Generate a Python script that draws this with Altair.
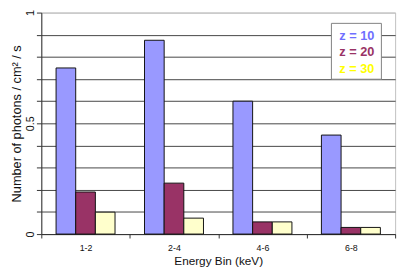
import altair as alt
import pandas as pd

bins = ["1-2", "2-4", "4-6", "6-8"]
series = ["z = 10", "z = 20", "z = 30"]
z10 = [0.75, 0.875, 0.60, 0.447]
z20 = [0.19, 0.23, 0.055, 0.03]
z30 = [0.099, 0.072, 0.055, 0.03]
bar_colors = ["#9999FF", "#993366", "#FFFFCC"]
legend_colors = ["#6F6FFF", "#993366", "#FFFF00"]
y_ticks = [0, 0.1, 0.2, 0.3, 0.4, 0.5, 0.6, 0.7, 0.8, 0.9, 1.0]

rows = []
for s, vals in zip(series, [z10, z20, z30]):
    for b, v in zip(bins, vals):
        rows.append({"bin": b, "series": s, "value": v})
df = pd.DataFrame(rows)

font = "Liberation Sans"

bars = alt.Chart(df).mark_bar(stroke="#111", strokeWidth=1, strokeOpacity=1).encode(
    x=alt.X("bin:N", sort=bins,
            scale=alt.Scale(paddingInner=0, paddingOuter=0),
            axis=alt.Axis(title="Energy Bin (keV)", labelAngle=0, tickBand="extent",
                          ticks=True, tickSize=4, domainColor="#333", tickColor="#333",
                          labelFontSize=9, titleFontSize=12, labelFont=font, titleFont=font,
                          titleFontWeight="normal", labelColor="#111", titleColor="#111",
                          labelPadding=6, titlePadding=3, grid=False)),
    xOffset=alt.XOffset("series:N", sort=series,
                        scale=alt.Scale(paddingInner=0, paddingOuter=0.75)),
    y=alt.Y("value:Q", scale=alt.Scale(domain=[0, 1], nice=False),
            axis=alt.Axis(title="Number of photons / cm² / s", values=y_ticks,
                          labelExpr="datum.value == 0 ? '0' : datum.value == 0.5 ? '0.5' : datum.value == 1 ? '1' : ''",
                          labelAngle=270, labelAlign="center", labelBaseline="bottom",
                          tickSize=5, tickColor="#333", domainColor="#333",
                          grid=True,
                          gridColor={"condition": {"test": "datum.value >= 1", "value": "#c0c0c0"}, "value": "#444"},
                          labelFontSize=11, titleFontSize=13, labelFont=font, titleFont=font,
                          titleFontWeight="normal", labelColor="#111", titleColor="#111",
                          labelPadding=1, titlePadding=1)),
    color=alt.Color("series:N", sort=series,
                    scale=alt.Scale(domain=series, range=bar_colors), legend=None),
)

box = alt.Chart(pd.DataFrame({"a": [0]})).mark_rect(fill="white", stroke="#808080", strokeWidth=1).encode(
    x=alt.value(296), x2=alt.value(347), y=alt.value(11), y2=alt.value(68)
)

layers = [bars, box]
for label, col, yy in zip(series, legend_colors, [24, 40.7, 57.7]):
    layers.append(
        alt.Chart(pd.DataFrame({"label": [label]})).mark_text(
            align="left", baseline="middle", fontWeight="bold", fontSize=13, color=col, font=font
        ).encode(x=alt.value(304), y=alt.value(yy), text="label:N")
    )

chart = alt.layer(*layers).properties(
    width=361, height=226,
    padding={"left": 34, "top": 2, "right": 6, "bottom": 35},
    autosize="none",
    background="white",
).configure_view(stroke="#c0c0c0")

chart.save("out.html", embed_options={"renderer": "svg", "actions": False})
